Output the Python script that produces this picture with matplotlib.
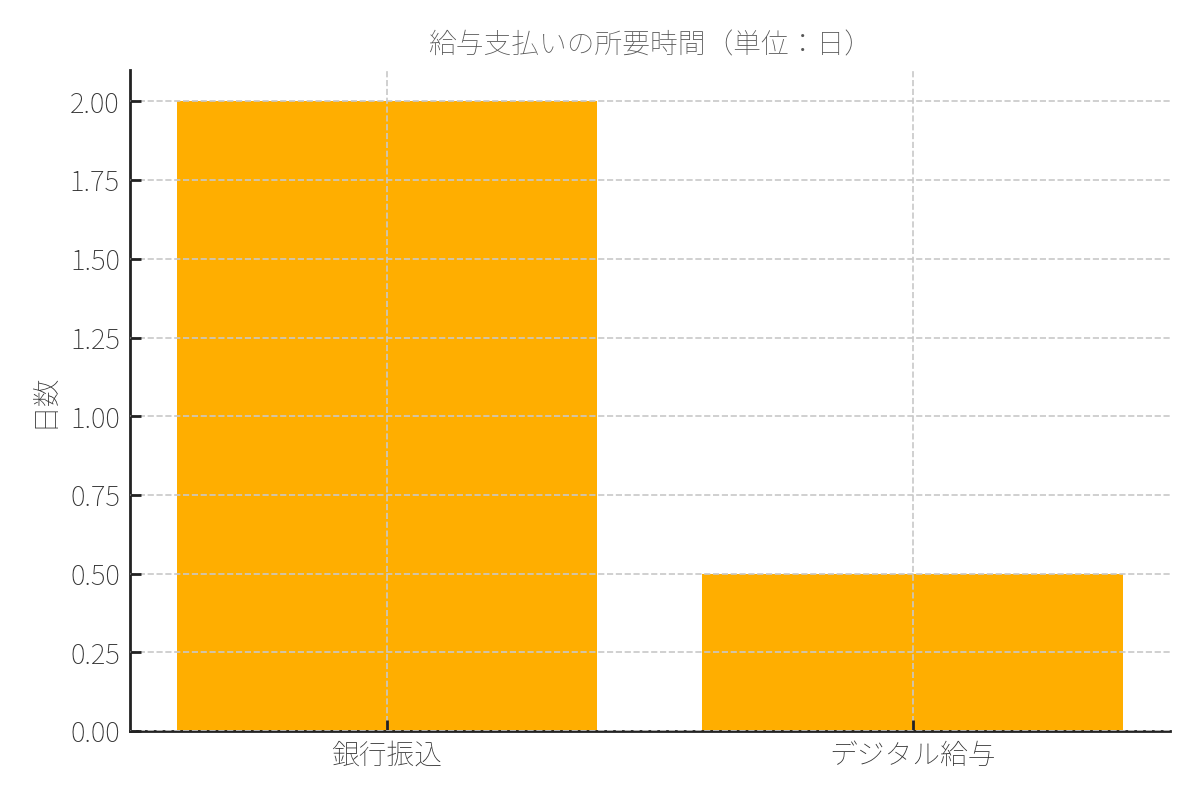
import matplotlib
matplotlib.use('Agg')
import matplotlib.pyplot as plt

# data
categories = ['銀行振込', 'デジタル給与']
days = [2.0, 0.5]

plt.rcParams['font.family'] = ['Noto Sans CJK JP', 'DejaVu Sans']
plt.rcParams['font.weight'] = 100

fig, ax = plt.subplots(figsize=(6, 4), dpi=200)
fig.subplots_adjust(left=0.108, right=0.975, bottom=0.086, top=0.9125)

ax.bar(categories, days, color='#FFAE00', width=0.8)

ax.set_title('給与支払いの所要時間（単位：日）', fontsize=10, color='#555555', weight=100)
ax.set_ylabel('日数', fontsize=10, color='#333333', weight=100)
ax.set_yticks([0, 0.25, 0.5, 0.75, 1.0, 1.25, 1.5, 1.75, 2.0])
ax.set_yticklabels(['%.2f' % v for v in ax.get_yticks()])

# grid drawn over the bars
ax.grid(True, color='#c8c8c8', linestyle='--', linewidth=0.6)
ax.set_axisbelow(False)

for s in ['top', 'right']:
    ax.spines[s].set_visible(False)
for s in ['left', 'bottom']:
    ax.spines[s].set_color('#222222')
    ax.spines[s].set_linewidth(1.0)

ax.tick_params(direction='in', length=4, width=1.0, color='#222222',
               labelsize=10, labelcolor='#333333')

fig.savefig('out.png')
